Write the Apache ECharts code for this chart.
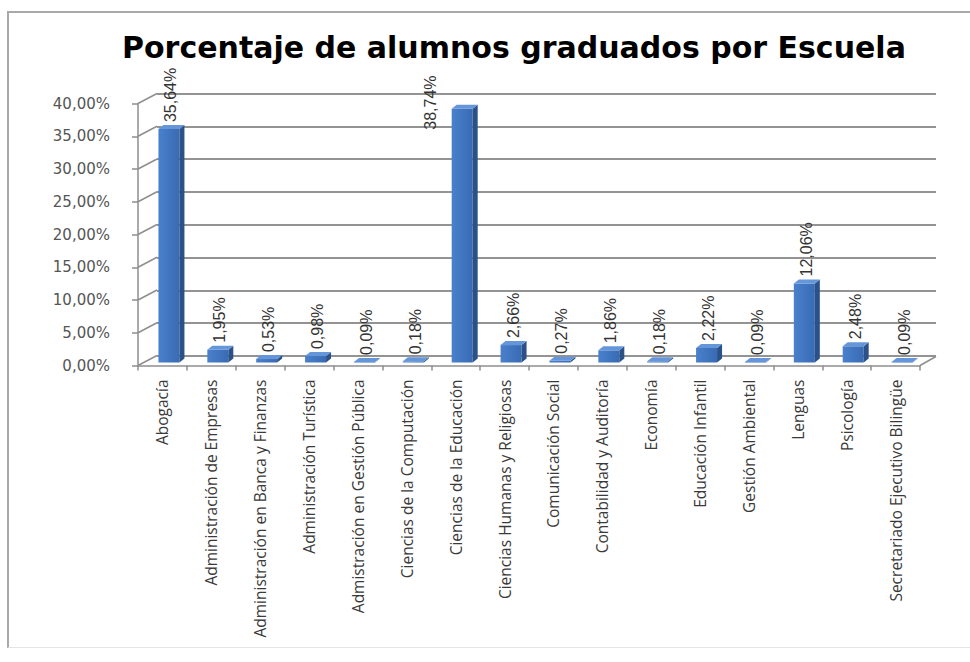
<!DOCTYPE html>
<html>
<head>
<meta charset="utf-8">
<title>Porcentaje de alumnos graduados por Escuela</title>
<script src="https://cdn.jsdelivr.net/npm/echarts@6/dist/echarts.min.js"></script>
<style>
  html, body { margin: 0; padding: 0; background: #ffffff; }
  #frame {
    position: absolute; left: 7px; top: 11px; width: 990px; height: 637px;
    border-left: 2px solid #a9a9a9; border-top: 2px solid #a9a9a9;
    border-bottom: 1px solid #e4e4e4; box-sizing: border-box;
  }
  #chart { position: absolute; left: 0; top: 0; width: 970px; height: 662px; }
</style>
</head>
<body>
<div id="frame"></div>
<div id="chart"></div>
<script>
// Escuelas y porcentaje de graduados
const schools = [
  'Abogacía',
  'Administración de Empresas',
  'Administración en Banca y Finanzas',
  'Administración Turística',
  'Admistración en Gestión Pública',
  'Ciencias de la Computación',
  'Ciencias de la Educación',
  'Ciencias Humanas y Religiosas',
  'Comunicación Social',
  'Contabilidad y Auditoría',
  'Economía',
  'Educación Infantil',
  'Gestión Ambiental',
  'Lenguas',
  'Psicología',
  'Secretariado Ejecutivo Bilingüe'
];
const graduatesPct = [35.64, 1.95, 0.53, 0.98, 0.09, 0.18, 38.74, 2.66, 0.27, 1.86, 0.18, 2.22, 0.09, 12.06, 2.48, 0.09];
const yTicks = [0, 5, 10, 15, 20, 25, 30, 35, 40];

const fmtPct = v => v.toFixed(2).replace('.', ',') + '%';

// pseudo-3D geometry (pixels)
const BAR_W = 21;        // front face width
const BAR_SHIFT_X = 6.5; // bar sits a little behind the front axis plane
const BAR_SHIFT_Y = -3;
const DEPTH_X = 5;       // bar depth
const DEPTH_Y = -4;
const WALL_X = 19;       // front axis plane -> back wall
const WALL_Y = -10;

const chart = echarts.init(document.getElementById('chart'), null, { renderer: 'svg' });

function renderBar(params, api) {
  const i = api.value(0), v = api.value(1);
  const base = api.coord([i, 0]);
  const top = api.coord([i, v]);
  const cx = base[0] + BAR_SHIFT_X;
  const x0 = cx - BAR_W / 2, x1 = cx + BAR_W / 2;
  const yb = base[1] + BAR_SHIFT_Y;
  const yt = top[1] + BAR_SHIFT_Y;
  const labelLen = 56;
  let lx = cx + 2, ly = yt + DEPTH_Y - 3;
  if (ly - labelLen < params.coordSys.y - 40) {
    // too tall: put the value beside the bar
    lx = cx - 32; ly = yt + 21;
  }
  return {
    type: 'group',
    children: [
      { type: 'rect', shape: { x: x0, y: yt, width: BAR_W, height: Math.max(yb - yt, 0.6) },
        style: { fill: new echarts.graphic.LinearGradient(0, 0, 1, 0, [
          { offset: 0, color: '#4a80cc' }, { offset: 1, color: '#386bb3' }]) } },
      { type: 'polygon', shape: { points: [[x1, yt], [x1 + DEPTH_X, yt + DEPTH_Y], [x1 + DEPTH_X, yb + DEPTH_Y], [x1, yb]] },
        style: { fill: '#2b5189' } },
      { type: 'polygon', shape: { points: [[x0, yt], [x1, yt], [x1 + DEPTH_X, yt + DEPTH_Y], [x0 + DEPTH_X, yt + DEPTH_Y]] },
        style: { fill: '#6596d9' } },
      { type: 'text', x: lx, y: ly, rotation: Math.PI / 2,
        style: { text: fmtPct(v), fill: '#333333', font: '16px "Liberation Sans", Arial, sans-serif',
                 align: 'left', verticalAlign: 'middle' } }
    ]
  };
}

function renderWallEdge(params, api) {
  const cs = params.coordSys;
  const v = api.value(1);
  const p = api.coord([0, v]);
  const lines = [
    { type: 'line', shape: { x1: cs.x, y1: p[1], x2: cs.x + WALL_X, y2: p[1] + WALL_Y },
      style: { stroke: '#8e8e8e', lineWidth: 1.5 } }
  ];
  if (v === 0) {
    lines.push({ type: 'line', shape: { x1: cs.x + cs.width, y1: p[1], x2: cs.x + cs.width + 16, y2: p[1] - 9 },
      style: { stroke: '#8e8e8e', lineWidth: 1.5 } });
  }
  return { type: 'group', children: lines };
}

chart.setOption({
  animation: false,
  backgroundColor: 'transparent',
  title: {
    text: 'Porcentaje de alumnos graduados por Escuela',
    left: 117, top: 27,
    textStyle: { fontFamily: 'DejaVu Sans', fontWeight: 'bold', fontSize: 30, color: '#000000' }
  },
  grid: [
    { left: 138, right: 50, top: 103.5, bottom: 296.5 },
    { left: 157, right: 34, top: 93.5, bottom: 306 }
  ],
  xAxis: [
    {
      type: 'category', gridIndex: 0, data: schools, boundaryGap: true,
      axisLine: { show: true, lineStyle: { color: '#8e8e8e', width: 1.5 } },
      axisTick: { show: true, interval: 0, length: 5, lineStyle: { color: '#8e8e8e', width: 1.5 } },
      axisLabel: { interval: 0, rotate: 90, margin: 14, color: '#3a3a3a',
                   fontFamily: 'Open Sans', fontSize: 15.5 },
      splitLine: { show: false }
    },
    {
      type: 'category', gridIndex: 1, data: schools, show: false
    }
  ],
  yAxis: [
    {
      type: 'value', gridIndex: 0, min: 0, max: 40, interval: 5,
      axisLine: { show: true, lineStyle: { color: '#8e8e8e', width: 1.5 } },
      axisTick: { show: true, length: 6, lineStyle: { color: '#8e8e8e', width: 1.5 } },
      axisLabel: { formatter: fmtPct, margin: 28, color: '#555555',
                   fontFamily: 'DejaVu Sans', fontSize: 15 },
      splitLine: { show: false }
    },
    {
      type: 'value', gridIndex: 1, min: 0, max: 40, interval: 5,
      axisLine: { show: false }, axisTick: { show: false }, axisLabel: { show: false },
      splitLine: { show: true, lineStyle: { color: '#939393', width: 2 } }
    }
  ],
  series: [
    {
      type: 'custom', name: 'walls', xAxisIndex: 0, yAxisIndex: 0, clip: false, silent: true,
      renderItem: renderWallEdge,
      data: yTicks.map(v => [0, v]),
      encode: { x: 0, y: 1 }
    },
    {
      type: 'custom', name: 'Graduados', xAxisIndex: 0, yAxisIndex: 0, clip: false,
      renderItem: renderBar,
      data: graduatesPct.map((v, i) => [i, v]),
      encode: { x: 0, y: 1 }
    }
  ]
});
</script>
</body>
</html>
